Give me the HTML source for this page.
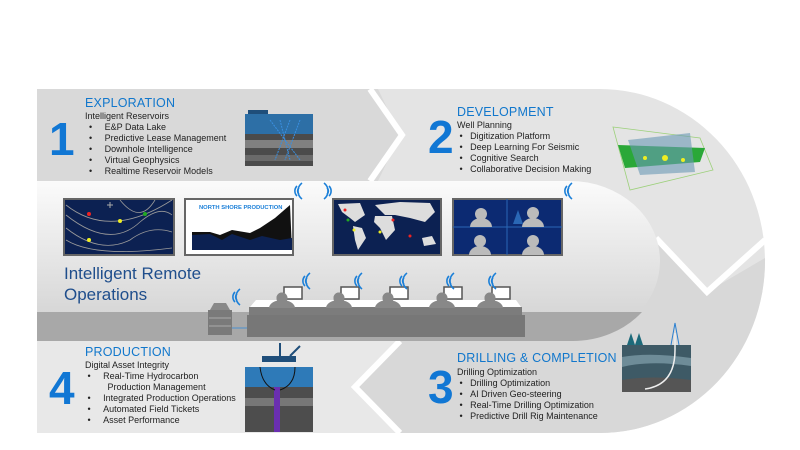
<!DOCTYPE html>
<html><head><meta charset="utf-8"><style>
body{margin:0;width:800px;height:450px;overflow:hidden;background:#fff;font-family:"Liberation Sans",sans-serif;}
svg{position:absolute;left:0;top:0}
.t{position:absolute;font-size:9px;color:#222;line-height:11px;white-space:nowrap}
.h{position:absolute;font-size:12.5px;color:#1177cc;letter-spacing:0.2px}
.n{position:absolute;font-size:46px;font-weight:bold;color:#1177d4;line-height:46px}
.t span{display:inline-block;width:16px}
</style></head><body>
<svg width="800" height="450" viewBox="0 0 800 450">
<defs>
<linearGradient id="pg" x1="0" y1="0" x2="0" y2="1"><stop offset="0" stop-color="#fbfbfb"/><stop offset="1" stop-color="#cfcfcf"/></linearGradient>
<g id="w"><path d="M-3,-5 A7,7 0 0 0 -3,5 M-1,-3 A4,4 0 0 0 -1,3 M2,-8 A10,10 0 0 0 2,8" fill="none" stroke="#1a7fd8" stroke-width="1.6"/></g>
<g id="p"><circle cx="0" cy="0" r="5.5" fill="#888"/><path d="M-13,10 A13,8 0 0 1 13,10 Z" fill="#888"/><rect x="2" y="-11" width="18" height="12" fill="#fff" stroke="#555" stroke-width="1.5"/><circle cx="0" cy="0" r="5.5" fill="#888"/></g>
</defs>
<path d="M37,89 H600 A165,172 0 0 1 600,433 H37 Z" fill="#e4e4e4"/>
<path d="M37,89 H378 L400,135 L378,181 H37 Z" fill="#d9d9d9"/>
<path d="M370,89 L402,135 L370,181" fill="none" stroke="#fff" stroke-width="6"/>
<path d="M400,341 L355,387 L400,433 H600 A165,172 0 0 0 765,258 L707,292 L656,240 Z" fill="#d8d8d8"/>
<path d="M37,341 H398 L355,387 L398,433 H37 Z" fill="#e8e8e8"/>
<path d="M400,341 L355,387 L400,433" fill="none" stroke="#fff" stroke-width="6"/>
<path d="M656,238 L707,292 L765,240" fill="none" stroke="#fff" stroke-width="6"/>
<path d="M37,181 H570 A90,80 0 0 1 570,341 H37 Z" fill="url(#pg)"/>
<path d="M37,312 H642 A90,80 0 0 1 570,341 H37 Z" fill="#a8a8a8"/>
<rect x="64" y="199" width="110" height="56" fill="#0c2152" stroke="#666" stroke-width="2"/>
<g fill="none" stroke="#9a9a9a" stroke-width="0.8">
<path d="M66,205 Q110,240 172,200"/><path d="M66,215 Q110,250 140,222 Q160,205 172,215"/><path d="M66,228 Q100,255 130,240 Q150,225 172,232"/><path d="M66,240 Q95,258 172,248"/><path d="M120,200 Q140,225 155,200"/></g>
<circle cx="89" cy="214" r="2" fill="#e22"/><circle cx="120" cy="221" r="2" fill="#ee2"/><circle cx="145" cy="214" r="2" fill="#2a2"/><circle cx="89" cy="240" r="2" fill="#ee2"/>
<path d="M107,205 h6 M110,202 v6" stroke="#aaa"/>
<rect x="185" y="199" width="108" height="56" fill="#fff" stroke="#666" stroke-width="2"/>
<path d="M192,232 L210,232 L220,235 L232,230 L250,233 L260,228 L275,218 L290,205 L292,250 H192 Z" fill="#111"/>
<path d="M192,235 L210,234 L222,240 L232,234 L250,240 L262,236 L280,240 L292,238 V250 H192 Z" fill="#0c2152"/>
<text x="199" y="209" font-size="5.8" font-weight="bold" fill="#1a7fd8" font-family="Liberation Sans">NORTH SHORE PRODUCTION</text>
<rect x="333" y="199" width="108" height="56" fill="#0c2152" stroke="#666" stroke-width="2"/>
<g fill="#ddd"><path d="M338,204 L360,203 L365,215 L355,222 L350,218 L342,212 Z"/><path d="M353,226 L362,228 L366,238 L358,250 L355,240 Z"/><path d="M375,205 L400,202 L430,203 L435,212 L425,222 L410,218 L395,215 L385,215 Z"/><path d="M375,216 L392,216 L395,230 L386,240 L380,228 L374,222 Z"/><path d="M422,238 L432,236 L436,244 L424,246 Z"/></g>
<circle cx="345" cy="210" r="1.5" fill="#e22"/><circle cx="348" cy="220" r="1.5" fill="#2a2"/><circle cx="354" cy="230" r="1.5" fill="#ee2"/><circle cx="393" cy="220" r="1.5" fill="#e22"/><circle cx="380" cy="232" r="1.5" fill="#ee2"/><circle cx="410" cy="236" r="1.5" fill="#e22"/>
<rect x="453" y="199" width="109" height="56" fill="#0c2a72" stroke="#666" stroke-width="2"/>
<path d="M507,199 V255 M453,227 H562" stroke="#2a67b5"/>
<g fill="#bbb"><circle cx="481" cy="214" r="6"/><path d="M470,227 A11,9 0 0 1 492,227 Z"/><circle cx="533" cy="213" r="6"/><path d="M522,227 A11,9 0 0 1 544,227 Z"/><circle cx="480" cy="241" r="6"/><path d="M469,255 A11,9 0 0 1 491,255 Z"/><circle cx="533" cy="241" r="6"/><path d="M522,255 A11,9 0 0 1 544,255 Z"/></g>
<path d="M513,224 L518,210 L523,224 Z" fill="#2a67b5"/>
<path d="M256,300 H516 L521,307 H250 Z" fill="#fff"/>
<rect x="249" y="307" width="273" height="8" fill="#7c7c7c"/>
<rect x="247" y="315" width="278" height="22" fill="#777"/>
<use href="#p" x="282" y="298"/><use href="#p" x="339" y="298"/><use href="#p" x="388" y="298"/><use href="#p" x="442" y="298"/><use href="#p" x="490" y="298"/>
<rect x="208" y="310" width="24" height="25" fill="#7a7a7a"/><path d="M210,310 L214,303 H226 L230,310 Z" fill="#888"/>
<path d="M209,318 H231 M209,326 H231" stroke="#aaa"/><path d="M232,328 H247" stroke="#4a90d0"/>
<use href="#w" x="300" y="191"/><use href="#w" x="326" y="191" transform="rotate(180 326 191)"/><use href="#w" x="570" y="191"/>
<use href="#w" x="308" y="281"/><use href="#w" x="360" y="281"/><use href="#w" x="405" y="281"/><use href="#w" x="452" y="281"/><use href="#w" x="494" y="281"/><use href="#w" x="238" y="297"/>
<rect x="245" y="114" width="68" height="52" fill="#4b4b4b"/>
<rect x="245" y="114" width="68" height="20" fill="#2d6fa6"/>
<rect x="245" y="140" width="68" height="8" fill="#808080"/><rect x="245" y="155" width="68" height="6" fill="#6a6a6a"/>
<path d="M270,120 L300,160 M280,120 L290,160 M290,120 L275,160 M300,120 L285,160" stroke="#3a8fe0" stroke-dasharray="2,1"/>
<rect x="248" y="110" width="20" height="4" fill="#1f4e7a"/>
<path d="M613,127 L700,138 L713,170 L630,190 Z" fill="none" stroke="#9cd07a" stroke-width="0.8"/>
<path d="M618,145 L705,148 L700,162 L625,168 Z" fill="#2aa838"/>
<path d="M628,140 L690,133 L695,172 L640,175 Z" fill="#6a9ab5" opacity="0.6"/>
<circle cx="645" cy="158" r="2" fill="#ee2"/><circle cx="665" cy="158" r="3" fill="#ee2"/><circle cx="683" cy="160" r="2" fill="#ee2"/>
<rect x="622" y="345" width="69" height="47" fill="#3e5a66"/>
<path d="M622,357 Q650,352 691,358 V366 Q650,360 622,367 Z" fill="#6e8c98"/>
<path d="M622,380 Q650,375 691,380 V392 H622 Z" fill="#555"/>
<path d="M675,333 V350 Q675,385 645,389" stroke="#eee" fill="none" stroke-width="1.5"/>
<path d="M671,345 L675,323 L679,345" fill="none" stroke="#2a7fd0"/>
<path d="M627,345 L631,333 L635,345 Z M635,345 L639,333 L643,345Z" fill="#1d6a7a"/>
<rect x="245" y="367" width="68" height="20" fill="#2e7ab8"/>
<rect x="245" y="387" width="68" height="45" fill="#4d4d4d"/>
<rect x="245" y="398" width="68" height="8" fill="#777"/>
<rect x="274" y="387" width="6" height="45" fill="#6a2fb0"/>
<path d="M260,367 Q262,385 275,390 M295,367 Q295,385 280,390" stroke="#111" fill="none"/>
<rect x="262" y="356" width="34" height="6" fill="#1f4e7a"/><path d="M280,356 V343 M290,356 L300,346" stroke="#1f4e7a" stroke-width="2"/>
</svg>
<div class="n" style="left:49px;top:116px">1</div>
<div class="h" style="left:85px;top:96px">EXPLORATION</div>
<div class="t" style="left:85px;top:111px">Intelligent Reservoirs<br><span style="width:4px"></span>•&nbsp;&nbsp;&nbsp;&nbsp;&nbsp;E&amp;P Data Lake<br><span style="width:4px"></span>•&nbsp;&nbsp;&nbsp;&nbsp;&nbsp;Predictive Lease Management<br><span style="width:4px"></span>•&nbsp;&nbsp;&nbsp;&nbsp;&nbsp;Downhole Intelligence<br><span style="width:4px"></span>•&nbsp;&nbsp;&nbsp;&nbsp;&nbsp;Virtual Geophysics<br><span style="width:4px"></span>•&nbsp;&nbsp;&nbsp;&nbsp;&nbsp;Realtime Reservoir Models</div>
<div class="n" style="left:428px;top:114px">2</div>
<div class="h" style="left:457px;top:105px">DEVELOPMENT</div>
<div class="t" style="left:457px;top:120px">Well Planning<br>&nbsp;•&nbsp;&nbsp;&nbsp;Digitization Platform<br>&nbsp;•&nbsp;&nbsp;&nbsp;Deep Learning For Seismic<br>&nbsp;•&nbsp;&nbsp;&nbsp;Cognitive Search<br>&nbsp;•&nbsp;&nbsp;&nbsp;Collaborative Decision Making</div>
<div style="position:absolute;left:64px;top:263px;font-size:17px;line-height:21px;color:#1f4e8c">Intelligent Remote<br>Operations</div>
<div class="n" style="left:49px;top:365px">4</div>
<div class="h" style="left:85px;top:345px">PRODUCTION</div>
<div class="t" style="left:85px;top:360px">Digital Asset Integrity<br>&nbsp;•&nbsp;&nbsp;&nbsp;&nbsp;&nbsp;Real-Time Hydrocarbon<br>&nbsp;&nbsp;&nbsp;&nbsp;&nbsp;&nbsp;&nbsp;&nbsp;&nbsp;Production Management<br>&nbsp;•&nbsp;&nbsp;&nbsp;&nbsp;&nbsp;Integrated Production Operations<br>&nbsp;•&nbsp;&nbsp;&nbsp;&nbsp;&nbsp;Automated Field Tickets<br>&nbsp;•&nbsp;&nbsp;&nbsp;&nbsp;&nbsp;Asset Performance</div>
<div class="n" style="left:428px;top:364px">3</div>
<div class="h" style="left:457px;top:351px">DRILLING &amp; COMPLETION</div>
<div class="t" style="left:457px;top:367px">Drilling Optimization<br>&nbsp;•&nbsp;&nbsp;&nbsp;Drilling Optimization<br>&nbsp;•&nbsp;&nbsp;&nbsp;AI Driven Geo-steering<br>&nbsp;•&nbsp;&nbsp;&nbsp;Real-Time Drilling Optimization<br>&nbsp;•&nbsp;&nbsp;&nbsp;Predictive Drill Rig Maintenance</div>
</body></html>
